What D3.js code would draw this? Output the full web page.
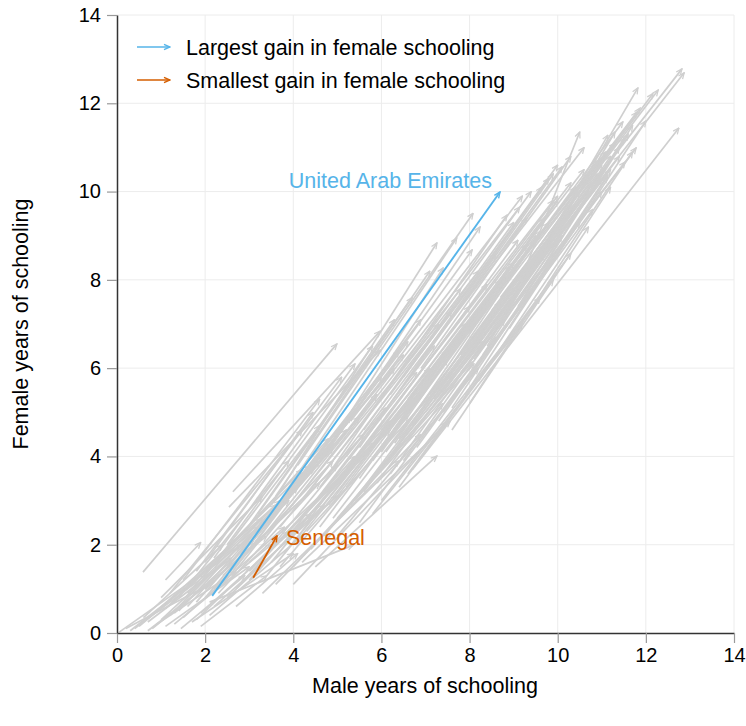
<!DOCTYPE html>
<html>
<head>
<meta charset="utf-8">
<script src="https://cdn.jsdelivr.net/npm/d3@7"></script>
<style>
  body { margin: 0; background: #fff; }
  svg text { font-family: "Liberation Sans", Arial, sans-serif; }
</style>
</head>
<body>
<svg id="chart" width="746" height="726"></svg>
<script>
// ---- Data: [male start, female start, male end, female end] (years of schooling)
const lowStartArrows = [
  [0.05,0.02,2.3,1.6],[0.3,0.05,2.8,2.0],[0.5,0.15,3.2,2.4],[0.7,0.25,2.6,1.7],
  [0.8,0.1,3.4,2.2],[1.0,0.3,3.9,3.0],[1.1,0.15,3.0,1.5],[1.2,0.4,4.1,3.3],
  [1.3,0.2,3.5,2.0],[1.4,0.5,4.3,3.6],[1.5,0.35,3.8,2.4],[1.6,0.6,4.6,3.9],
  [1.7,0.25,4.0,1.8],[1.8,0.7,4.9,4.2],[1.9,0.45,4.4,2.7],[2.0,0.8,5.2,4.6],
  [0.9,0.5,3.6,2.9],[1.25,0.7,4.4,3.8],[1.6,0.9,4.8,4.4],[2.2,0.6,5.0,3.1],
  [2.3,0.9,5.6,4.5],[0.6,0.35,2.4,2.0],[1.1,0.55,3.3,2.6],[1.45,0.1,2.9,1.3],
  [1.9,0.15,3.4,1.3],[0.4,0.1,2.0,1.3],[2.4,1.1,5.3,4.9],[2.6,1.3,5.9,5.4],
  [1.0,0.8,3.3,3.1],[0.59,1.38,4.99,6.55],[2.1,0.7,5.36,1.99],[1.1,1.2,1.9,2.05],
  [2.4,1.3,5.0,3.8],[2.0,1.0,4.6,3.4],[1.7,1.1,4.2,3.7],[2.7,0.6,4.1,1.8],
  [0.2,0.1,2.1,1.1],[0.9,0.2,2.7,1.4],[1.3,0.45,3.1,2.1],[1.5,0.75,3.7,3.0],
  [2.1,0.4,4.2,2.2],[2.5,0.8,4.7,2.9],[1.8,0.3,3.9,2.3],[2.2,1.0,4.9,3.9],
  [0.7,0.05,2.2,1.2],[2.8,1.1,5.4,4.0],
  [1.5,1.2,4.6,5.3],[1.8,1.4,5.1,5.8],[2.2,1.7,5.4,6.1],[1.2,0.9,4.2,4.6],
  [1.4,0.8,3.9,3.9],[2.0,1.3,4.6,4.7]
];
const midStartArrows = [
  [2.5,1.5,6.0,5.8],[2.7,1.0,6.2,4.8],[2.8,1.8,6.5,6.3],[3.0,1.2,6.8,5.3],
  [3.1,2.0,6.6,6.6],[3.2,1.4,7.0,5.6],[3.3,0.9,6.4,3.9],[3.4,2.2,7.3,7.0],
  [3.5,1.6,7.1,6.0],[3.6,1.1,6.9,4.5],[3.7,2.4,7.6,7.3],[3.8,1.8,7.5,6.4],
  [3.9,2.8,7.8,7.8],[4.0,1.5,7.4,5.2],[4.1,2.1,7.9,6.8],[4.2,3.0,8.2,8.2],
  [4.3,2.5,8.0,7.4],[4.4,1.9,8.1,6.1],[2.63,3.2,5.97,6.84],[2.54,2.85,5.97,6.41],
  [2.0,1.6,4.45,5.0],[4.5,2.8,8.4,7.9],[4.6,3.3,8.6,8.6],[4.7,2.2,8.3,6.6],
  [4.8,3.6,8.85,9.47],[4.9,2.6,8.7,7.5],[3.5,2.9,7.26,8.84],[3.9,3.3,7.71,8.95],
  [4.1,3.8,8.08,9.51],[5.0,3.1,9.0,8.4],[4.5,1.5,7.26,4.01],[4.2,1.6,7.56,4.8],
  [3.4,1.3,5.67,4.15],[4.0,1.1,7.49,4.78],[5.0,2.6,8.06,6.14],[3.0,1.6,6.2,4.6],
  [3.6,2.0,6.9,5.4],[4.3,2.3,7.6,5.9],[2.9,1.9,5.5,4.9],[3.2,2.4,6.3,6.0],
  [3.0,1.4,5.8,4.3],[3.3,1.7,6.1,5.1],[3.7,1.5,6.6,4.9],[3.9,2.2,6.8,5.9],
  [4.2,2.6,7.2,6.5],[4.6,2.4,7.5,6.2],[3.4,2.6,6.4,6.4],[4.8,2.9,7.9,7.0],
  [3.8,3.0,6.9,7.1],[2.5,2.0,5.8,6.5],[2.9,2.3,6.3,7.1],[3.2,2.7,6.7,7.6],
  [3.6,3.1,7.1,8.2]
];
const upperStartArrows = [
  [5.1,3.5,9.1,8.9],[5.2,4.0,9.3,9.4],[5.3,2.9,9.0,7.8],[5.4,3.7,9.5,9.0],
  [5.5,4.2,9.64,10.1],[5.6,3.2,9.4,8.3],[5.7,4.5,10.1,10.56],[5.8,3.9,9.8,9.3],
  [5.9,3.4,9.7,8.6],[6.0,4.6,10.0,9.9],[6.1,4.1,10.2,9.5],[6.2,3.6,9.9,8.8],
  [6.3,5.0,10.3,10.2],[6.4,4.4,10.4,9.7],[6.5,3.9,10.1,9.0],[6.6,5.3,10.6,10.5],
  [6.7,4.7,10.7,10.0],[6.8,4.2,10.5,9.3],[6.9,5.6,10.9,10.7],[7.0,5.0,11.0,10.3],
  [5.0,4.3,9.14,9.65],[4.7,4.0,8.24,9.2],[4.4,3.6,7.4,8.27],[5.3,4.8,9.2,9.9],
  [4.6,3.9,8.06,8.68],[6.0,3.0,9.6,7.6],[5.8,2.7,9.2,7.0],[6.4,3.3,9.9,8.0],
  [5.5,2.5,8.6,6.7],[6.6,3.6,10.3,8.6],[5.0,2.2,8.2,6.0],[5.4,3.0,8.8,7.1],
  [6.1,4.9,9.9,9.8],[6.3,4.3,9.6,9.1],[5.6,4.6,9.0,9.3],[6.2,5.4,9.8,10.3],
  [5.9,5.2,9.4,10.0],[5.2,3.3,8.5,7.6],[5.7,3.8,8.9,8.3],[6.0,4.1,9.3,8.8],
  [6.3,4.6,9.7,9.4],[6.6,4.9,10.0,9.8],[5.5,3.5,8.7,8.0],[6.8,5.2,10.4,10.1],
  [6.2,4.0,9.5,8.9]
];
const highStartArrows = [
  [7.1,5.9,11.1,10.9],[7.2,5.3,11.2,10.5],[7.3,4.8,11.0,10.0],[7.4,6.2,11.3,11.1],
  [7.5,5.6,11.4,10.8],[7.6,5.1,11.14,10.38],[7.7,6.5,11.48,11.58],[7.8,5.9,11.53,10.67],
  [7.9,5.4,11.12,10.33],[8.0,6.8,11.8,11.8],[8.1,6.2,11.78,10.99],[8.2,5.7,11.7,10.9],
  [8.3,7.0,11.87,11.89],[8.4,6.5,11.3,11.35],[8.5,7.3,12.16,12.22],[8.6,6.9,11.14,11.28],
  [8.7,7.6,12.28,12.3],[8.8,7.2,11.82,12.35],[9.0,7.9,12.82,12.78],[9.2,8.0,12.87,12.69],
  [6.7,3.7,12.75,11.44],[9.0,7.6,10.5,11.35],[7.4,5.0,10.8,9.6],[7.8,6.3,10.9,10.4],
  [8.2,6.6,11.4,11.0],[7.2,6.6,10.6,11.0],[6.9,6.0,10.3,10.8],[6.5,5.8,10.0,10.6],
  [8.9,6.9,12.0,11.6],[9.1,7.4,11.7,11.5],[7.6,4.6,10.7,9.2],[8.0,5.2,11.2,10.1],
  [7.0,6.3,9.9,10.4],[7.3,5.5,10.8,10.2],[7.9,6.0,11.2,10.8],[8.3,6.3,11.5,11.2],
  [7.6,5.8,11.0,10.6],[8.6,6.6,11.6,11.3],[7.1,5.4,10.5,10.0]
];
const largestGain = { name: "United Arab Emirates", values: [2.16,0.84,8.69,9.99] };
const smallestGain = { name: "Senegal", values: [3.09,1.25,3.63,2.2] };
const tickValues = [0,2,4,6,8,10,12,14];
const legendLabels = ["Largest gain in female schooling","Smallest gain in female schooling"];
const axisTitles = { x: "Male years of schooling", y: "Female years of schooling" };

// ---- Layout
const svg = d3.select("#chart");
const x = d3.scaleLinear().domain([0,14]).range([117,734]);
const y = d3.scaleLinear().domain([0,14]).range([633,15]);
const GREY = "#cfcfcf", BLUE = "#56b4e9", ORANGE = "#d55e00";
const FS = 21.5;

// markers
const defs = svg.append("defs");
function marker(id, color, w) {
  defs.append("marker")
    .attr("id", id).attr("viewBox","0 0 10 10")
    .attr("refX", 9).attr("refY", 5)
    .attr("markerWidth", 7.5).attr("markerHeight", 7.5)
    .attr("markerUnits","userSpaceOnUse")
    .attr("orient","auto")
    .append("path").attr("d","M1,1.5 L9,5 L1,8.5")
    .attr("fill","none").attr("stroke", color).attr("stroke-width", w)
    .attr("stroke-linejoin","miter");
}
marker("ahGrey", GREY, 1.7);
marker("ahBlue", BLUE, 1.9);
marker("ahOrange", ORANGE, 1.9);

// grid
const grid = svg.append("g");
grid.selectAll(".gx").data(tickValues.slice(1)).enter().append("line")
  .attr("x1", d => x(d)).attr("x2", d => x(d)).attr("y1", y(0)).attr("y2", y(14))
  .attr("stroke","#ececec").attr("stroke-width",1);
grid.selectAll(".gy").data(tickValues.slice(1)).enter().append("line")
  .attr("x1", x(0)).attr("x2", x(14)).attr("y1", d => y(d)).attr("y2", d => y(d))
  .attr("stroke","#ececec").attr("stroke-width",1);

// grey arrows
const allGrey = [...lowStartArrows, ...midStartArrows, ...upperStartArrows, ...highStartArrows];
svg.append("g").selectAll("line").data(allGrey).enter().append("line")
  .attr("x1", d => x(d[0])).attr("y1", d => y(d[1]))
  .attr("x2", d => x(d[2])).attr("y2", d => y(d[3]))
  .attr("stroke", GREY).attr("stroke-width", 1.7)
  .attr("marker-end","url(#ahGrey)");

// highlighted
function hl(d, color, mk) {
  svg.append("line")
    .attr("x1", x(d[0])).attr("y1", y(d[1]))
    .attr("x2", x(d[2])).attr("y2", y(d[3]))
    .attr("stroke", color).attr("stroke-width", 1.9)
    .attr("marker-end", `url(#${mk})`);
}
hl(largestGain.values, BLUE, "ahBlue");
hl(smallestGain.values, ORANGE, "ahOrange");

svg.append("text").attr("x", x(largestGain.values[2]) - 8).attr("y", y(largestGain.values[3]) - 4)
  .attr("text-anchor","end").attr("font-size",FS).attr("fill", BLUE).text(largestGain.name);
svg.append("text").attr("x", x(smallestGain.values[2]) + 9).attr("y", y(smallestGain.values[3]) + 9)
  .attr("text-anchor","start").attr("font-size",FS).attr("fill", ORANGE).text(smallestGain.name);

// axes
const xAxis = svg.append("g").attr("transform", `translate(0,${y(0)})`)
  .call(d3.axisBottom(x).tickValues(tickValues).tickSize(10).tickPadding(5).tickSizeOuter(0));
const yAxis = svg.append("g").attr("transform", `translate(${x(0)},0)`)
  .call(d3.axisLeft(y).tickValues(tickValues).tickSize(10).tickPadding(6).tickSizeOuter(0));
[xAxis, yAxis].forEach(a => {
  a.select(".domain").attr("stroke","#333").attr("stroke-width",1.5);
  a.selectAll(".tick line").attr("stroke","#999").attr("stroke-width",1.2);
  a.selectAll(".tick text").attr("font-size",20).attr("fill","#000")
    .attr("font-family",'"Liberation Sans", Arial, sans-serif');
});

// axis titles
svg.append("text").attr("x", 425).attr("y", 693).attr("text-anchor","middle")
  .attr("font-size",FS).attr("fill","#000").text(axisTitles.x);
svg.append("text").attr("transform","translate(28,324) rotate(-90)").attr("text-anchor","middle")
  .attr("font-size",FS).attr("fill","#000").text(axisTitles.y);

// legend
const legend = svg.append("g");
[[BLUE,"ahBlue"],[ORANGE,"ahOrange"]].forEach((c,i) => {
  const ly = 47 + i*33;
  legend.append("line").attr("x1",137).attr("x2",170).attr("y1",ly).attr("y2",ly)
    .attr("stroke",c[0]).attr("stroke-width",1.5).attr("marker-end",`url(#${c[1]})`);
  legend.append("text").attr("x",186).attr("y",ly+7.5).attr("font-size",FS).attr("fill","#000")
    .text(legendLabels[i]);
});
</script>
</body>
</html>
